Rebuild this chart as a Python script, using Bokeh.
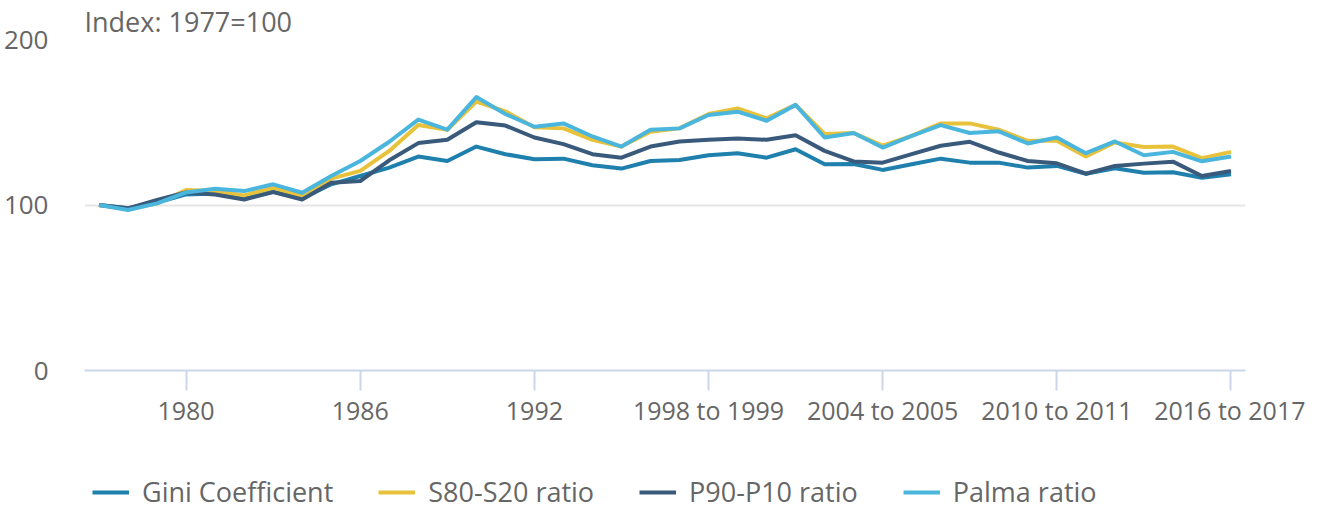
from bokeh.plotting import figure
from bokeh.models import Range1d, FixedTicker, Legend, LegendItem
from bokeh.layouts import column
from bokeh.embed import file_html
from bokeh.resources import INLINE

# ---- data ----
categories = [str(y) for y in range(1977, 1994)] + [f"{y} to {y+1}" for y in range(1994, 2017)]
tick_positions = [3, 9, 15, 21, 27, 33, 39]

gini = [100, 98, 101.5, 106.4, 107, 104.5, 108, 104, 112.5, 117.5,
        122.6, 129.3, 126.6, 135.3, 130.7, 127.7, 128, 124, 122, 126.6,
        127.2, 130.1, 131.3, 128.6, 133.7, 124.6, 124.8, 121.2, 124.6, 128,
        125.6, 125.6, 122.6, 123.6, 118.9, 122.2, 119.5, 119.8, 116.5, 118.5]
s80_s20 = [100, 97.5, 101, 109, 108.4, 105.8, 110.4, 105.5, 115.9, 120.6,
           132.7, 148.3, 145.5, 162.5, 156.6, 147, 146.3, 139.4, 135.3, 144.3,
           146.3, 155, 158.4, 152.4, 160.5, 142.9, 143.5, 135.9, 141.8, 149.3,
           149.3, 145.5, 138.8, 138.8, 129.3, 137.8, 135.1, 135.3, 128.3, 132.1]
p90_p10 = [100, 98, 103, 107.6, 106.4, 103.3, 107.8, 103.3, 113.5, 114.5,
           127, 137.4, 139.4, 150, 148, 140.8, 136.8, 130.7, 128.6, 135.3,
           138.4, 139.4, 140.2, 139.4, 142.2, 132.7, 126.3, 125.6, 130.7, 135.8,
           138.2, 131.7, 126.6, 125.2, 118.9, 123.6, 125, 126.2, 117.5, 120.6]
palma = [100, 97, 101, 107.6, 109.8, 108.4, 112.5, 107.4, 117.5, 126.6,
         138.2, 151.6, 145.5, 165.2, 155, 147.3, 149.3, 141.4, 135.3, 145.5,
         146.3, 154.4, 156.4, 150.9, 160.5, 140.8, 143.5, 134.7, 141.8, 148.3,
         143.5, 144.5, 137.2, 140.8, 131.3, 138.4, 130.1, 132.1, 126.4, 129.3]

series_names = ["Gini Coefficient", "S80-S20 ratio", "P90-P10 ratio", "Palma ratio"]
series_values = [gini, s80_s20, p90_p10, palma]
colors = ["#1f80ad", "#e8c23a", "#3a5a7c", "#4ab6de"]

y_ticks = [0, 100, 200]
y_title = "Index: 1977=100"

FONT = "Open Sans"
GREY = "#666666"

x_idx = list(range(len(categories)))

# ---------------- main chart ----------------
p = figure(width=1305, height=468, output_backend="svg", toolbar_location=None,
           x_range=Range1d(-0.5, len(categories) - 0.5), y_range=Range1d(0, 200),
           min_border_left=77, min_border_right=60, min_border_top=0, min_border_bottom=98)
p.outline_line_color = None
p.background_fill_color = "white"

p.title.text = y_title
p.title.align = "left"
p.title.text_font = FONT
p.title.text_font_style = "normal"
p.title.text_font_size = "27px"
p.title.text_color = GREY
p.title.offset = 0
p.title.standoff = 0

p.xaxis.ticker = FixedTicker(ticks=tick_positions)
p.xaxis.major_label_overrides = {i: categories[i] for i in tick_positions}
p.xaxis.axis_line_color = "#ccd6eb"
p.xaxis.axis_line_width = 2
p.xaxis.major_tick_line_color = "#ccd6eb"
p.xaxis.major_tick_line_width = 2
p.xaxis.major_tick_out = 20
p.xaxis.major_tick_in = 0
p.xaxis.minor_tick_line_color = None
p.xaxis.major_label_text_font = FONT
p.xaxis.major_label_text_font_size = "25px"
p.xaxis.major_label_text_color = GREY
p.xaxis.major_label_standoff = 2

p.yaxis.ticker = FixedTicker(ticks=y_ticks)
p.yaxis.axis_line_color = None
p.yaxis.major_tick_line_color = None
p.yaxis.minor_tick_line_color = None
p.yaxis.major_label_text_font = FONT
p.yaxis.major_label_text_font_size = "26px"
p.yaxis.major_label_text_color = GREY
p.yaxis.major_label_standoff = 30

p.xgrid.grid_line_color = None
p.ygrid.ticker = FixedTicker(ticks=[100, 200])
p.ygrid.grid_line_color = "#e6e6e6"
p.ygrid.grid_line_width = 2

for vals, col in zip(series_values, colors):
    p.line(x_idx, vals, line_color=col, line_width=4, line_join="round")

# ---------------- legend strip (same series, lines kept out of view) ----------------
pl = figure(width=1305, height=42, output_backend="svg", toolbar_location=None,
            x_range=Range1d(-0.5, len(categories) - 0.5), y_range=Range1d(1000, 1001),
            x_axis_type=None, y_axis_type=None,
            min_border_left=77, min_border_right=60, min_border_top=0, min_border_bottom=0)
pl.outline_line_color = None
pl.xgrid.grid_line_color = None
pl.ygrid.grid_line_color = None

items = []
for name, vals, col in zip(series_names, series_values, colors):
    r = pl.line(x_idx, vals, line_color=col, line_width=4)
    items.append(LegendItem(label=name, renderers=[r]))

legend = Legend(items=items, orientation="horizontal", location=(8, 0),
                spacing=45, glyph_width=37, glyph_height=20, label_standoff=13,
                padding=0, margin=0, border_line_color=None, background_fill_alpha=0,
                label_text_font=FONT, label_text_font_size="27px", label_text_color=GREY)
pl.add_layout(legend, "center")

layout = column(p, pl, spacing=0)
open("out.html", "w").write(file_html(layout, INLINE))
